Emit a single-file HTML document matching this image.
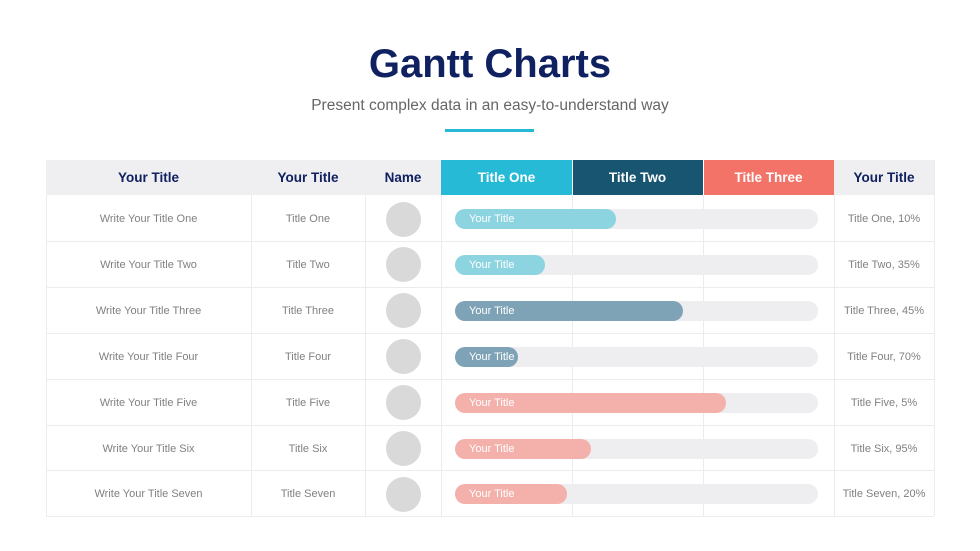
<!DOCTYPE html>
<html><head><style>
body{margin:0;width:980px;height:551px;background:#fff;font-family:"Liberation Sans",sans-serif;position:relative;overflow:hidden}
.a{position:absolute}
h1{position:absolute;left:0;width:980px;top:42px;margin:0;text-align:center;font-size:40px;color:#0f2160;font-weight:bold}
.sub{left:0;width:980px;top:97px;text-align:center;font-size:15.5px;color:#666}
.hd{top:160px;height:35px;line-height:36px;text-align:center;font-weight:bold;font-size:13.5px;color:#0f2160}
.cell{height:46px;line-height:49px;text-align:center;font-size:11px;color:#808080}
.vl{width:1px;background:#ececef}
.hl{height:1px;background:#ececef}
.trk{height:20px;border-radius:10px;background:#eeedf0;left:455px;width:363px}
.fill{height:20px;border-radius:10px;left:455px;color:#fff;font-size:11px;line-height:20px;padding-left:14px;box-sizing:border-box}
.c{width:35px;height:35px;border-radius:50%;background:#d9d9d9;left:386px}
</style></head><body>
<h1>Gantt Charts</h1>
<div class="a sub">Present complex data in an easy-to-understand way</div>
<div class="a" style="left:445px;top:129px;width:89px;height:3px;background:#26b8d4"></div>
<div class="a" style="left:46px;top:160px;width:395px;height:35px;background:#efeef1"></div>
<div class="a" style="left:834px;top:160px;width:100px;height:35px;background:#efeef1"></div>
<div class="a" style="left:441px;top:160px;width:131px;height:35px;background:#27bad7"></div>
<div class="a" style="left:573px;top:160px;width:130px;height:35px;background:#175570"></div>
<div class="a" style="left:704px;top:160px;width:130px;height:35px;background:#f47368"></div>
<div class="a hd" style="left:46px;width:205px">Your Title</div>
<div class="a hd" style="left:251px;width:114px">Your Title</div>
<div class="a hd" style="left:365px;width:76px">Name</div>
<div class="a hd" style="left:441px;width:131px;color:#fff">Title One</div>
<div class="a hd" style="left:572px;width:131px;color:#fff">Title Two</div>
<div class="a hd" style="left:703px;width:131px;color:#fff">Title Three</div>
<div class="a hd" style="left:834px;width:100px">Your Title</div>
<div class="a vl" style="left:46px;top:195px;height:321px"></div>
<div class="a vl" style="left:251px;top:195px;height:321px"></div>
<div class="a vl" style="left:365px;top:195px;height:321px"></div>
<div class="a vl" style="left:441px;top:195px;height:321px"></div>
<div class="a vl" style="left:572px;top:195px;height:321px"></div>
<div class="a vl" style="left:703px;top:195px;height:321px"></div>
<div class="a vl" style="left:834px;top:195px;height:321px"></div>
<div class="a vl" style="left:934px;top:160px;height:356px"></div>
<div id="rows"></div>
<script>
var r=[["Write Your Title One","Title One","Title One, 10%",616,"#8dd4e1"],
["Write Your Title Two","Title Two","Title Two, 35%",545,"#8dd4e1"],
["Write Your Title Three","Title Three","Title Three, 45%",683,"#7fa3b6"],
["Write Your Title Four","Title Four","Title Four, 70%",518,"#7fa3b6"],
["Write Your Title Five","Title Five","Title Five, 5%",726,"#f4b1ac"],
["Write Your Title Six","Title Six","Title Six, 95%",591,"#f4b1ac"],
["Write Your Title Seven","Title Seven","Title Seven, 20%",567,"#f4b1ac"]];
var h="";
r.forEach(function(d,i){var t=195+i*45.9;var m=t+24;
h+='<div class="a cell" style="left:46px;width:205px;top:'+t+'px">'+d[0]+'</div>';
h+='<div class="a cell" style="left:251px;width:114px;top:'+t+'px">'+d[1]+'</div>';
h+='<div class="a cell" style="left:834px;width:100px;top:'+t+'px">'+d[2]+'</div>';
h+='<div class="a c" style="top:'+(m-17.5)+'px"></div>';
h+='<div class="a trk" style="top:'+(m-10)+'px"></div>';
h+='<div class="a fill" style="top:'+(m-10)+'px;width:'+(d[3]-455)+'px;background:'+d[4]+'">Your Title</div>';
h+='<div class="a hl" style="left:46px;width:888px;top:'+(t+45.9)+'px"></div>';});
document.getElementById("rows").innerHTML=h;
</script>
</body></html>
